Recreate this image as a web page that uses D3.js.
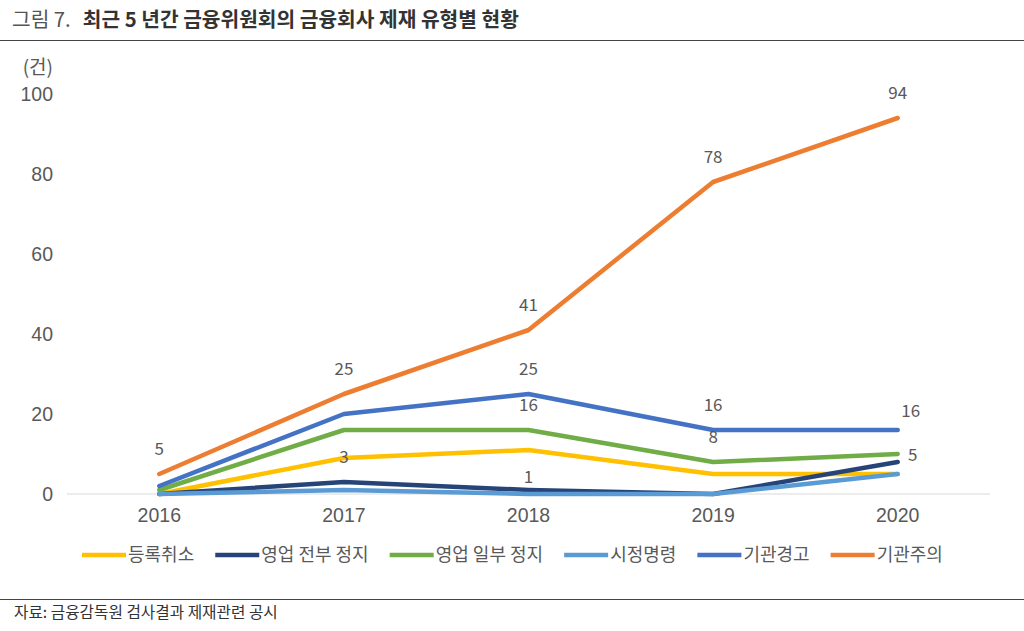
<!DOCTYPE html>
<html><head><meta charset="utf-8">
<script src="https://cdn.jsdelivr.net/npm/d3@7"></script>
<style>
html,body{margin:0;padding:0;background:#fff;}
svg{display:block;font-family:"Noto Sans CJK KR","Noto Sans",sans-serif;}
</style></head>
<body><svg id="c" width="1024" height="631"></svg>
<script>
const years = ["2016","2017","2018","2019","2020"];
const seriesNames = ["등록취소","영업 전부 정지","영업 일부 정지","시정명령","기관경고","기관주의"];
const cancel = [0, 9, 11, 5, 5];
const fullSuspend = [0, 3, 1, 0, 8];
const partSuspend = [1, 16, 16, 8, 10];
const correction = [0, 1, 0, 0, 5];
const warning = [2, 20, 25, 16, 16];
const caution = [5, 25, 41, 78, 94];
const yTicks = [0, 20, 40, 60, 80, 100];
const colors = ["#FFC000","#264478","#70AD47","#5B9BD5","#4472C4","#ED7D31"];
// data labels shown: [series index, year index]
const labelSeries = [5,5,5,5,5, 4,4,4, 2,2, 1,1, 3];
const labelYears  = [0,1,2,3,4, 2,3,4, 2,3, 1,2, 4];

const values = [cancel, fullSuspend, partSuspend, correction, warning, caution];
const svg = d3.select("#c");

// title
const t = svg.append("text").attr("x", 12).attr("y", 27).attr("font-size", 20.3);
t.append("tspan").attr("fill", "#555").text("그림 7.");
t.append("tspan").attr("dx", 12).attr("fill", "#333").attr("font-weight", 600).text("최근 5 년간 금융위원회의 금융회사 제재 유형별 현황");
svg.append("line").attr("x1", 0).attr("x2", 1024).attr("y1", 40.5).attr("y2", 40.5).attr("stroke", "#444").attr("stroke-width", 1.2);

const x = d3.scaleBand().domain(years).range([67, 990]);
const y = d3.scaleLinear().domain([0, 100]).range([494, 94]);

// baseline
svg.append("line").attr("x1", 67).attr("x2", 990).attr("y1", y(0)).attr("y2", y(0)).attr("stroke", "#d9d9d9").attr("stroke-width", 1);

// y axis
const yAxis = svg.append("g").attr("transform", "translate(53,0)")
  .call(d3.axisLeft(y).tickValues(yTicks).tickSize(0).tickPadding(0));
yAxis.select(".domain").remove();
yAxis.selectAll("text").attr("font-size", 19.5).attr("fill", "#595959").attr("font-family", "inherit");
svg.append("text").attr("x", 53).attr("y", 74).attr("text-anchor", "end").attr("font-size", 19).attr("fill", "#595959").text("(건)");

// x axis
const xAxis = svg.append("g").attr("transform", "translate(0,505)")
  .call(d3.axisBottom(x).tickSize(0).tickPadding(0));
xAxis.select(".domain").remove();
xAxis.selectAll("text").attr("font-size", 19.5).attr("fill", "#595959").attr("font-family", "inherit").attr("dy", "0.85em");

// lines
const line = d3.line().x((d, i) => x(years[i]) + x.bandwidth() / 2).y(d => y(d));
values.forEach((v, s) => {
  svg.append("path").datum(v).attr("d", line).attr("fill", "none")
    .attr("stroke", colors[s]).attr("stroke-width", 4.5)
    .attr("stroke-linejoin", "round").attr("stroke-linecap", "round");
});

// data labels
const off = {"4-4": [13, 6], "1-2": [0, 12], "3-4": [15, 6]};
labelSeries.forEach((s, k) => {
  const i = labelYears[k];
  const o = off[s + "-" + i] || [0, 0];
  svg.append("text")
    .attr("x", x(years[i]) + x.bandwidth() / 2 + o[0])
    .attr("y", y(values[s][i]) - 25 + o[1])
    .attr("dy", "0.35em")
    .attr("text-anchor", "middle").attr("font-size", 17).attr("fill", "#595959")
    .text(values[s][i]);
});

// legend
const lg = svg.append("g").attr("transform", "translate(0,555)");
let lx = 82;
seriesNames.forEach((n, s) => {
  lg.append("line").attr("x1", lx).attr("x2", lx + 44).attr("y1", 0).attr("y2", 0)
    .attr("stroke", colors[s]).attr("stroke-width", 4.5);
  const tx = lg.append("text").attr("x", lx + 46).attr("y", 0).attr("dy", "0.35em")
    .attr("font-size", 18).attr("fill", "#595959").text(n);
  lx += 46 + tx.node().getComputedTextLength() + 21;
});

// footer
svg.append("line").attr("x1", 0).attr("x2", 1024).attr("y1", 599.5).attr("y2", 599.5).attr("stroke", "#444").attr("stroke-width", 1.2);
svg.append("text").attr("x", 14).attr("y", 618).attr("font-size", 15.7).attr("fill", "#333").text("자료: 금융감독원 검사결과 제재관련 공시");
</script></body></html>
